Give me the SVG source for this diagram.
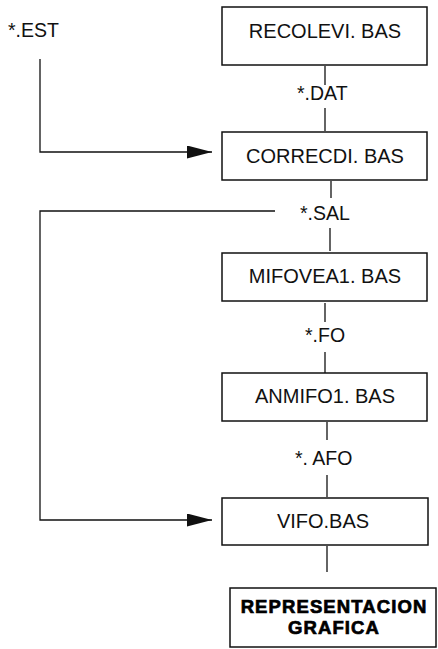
<svg xmlns="http://www.w3.org/2000/svg" width="438" height="649" viewBox="0 0 438 649">
<style>
.box{fill:#fff;stroke:#111;stroke-width:1.5}
.ln{fill:none;stroke:#111;stroke-width:1.3}
.t{font-family:"Liberation Sans",Arial,sans-serif;font-size:20px;fill:#111;text-anchor:middle}
.lb{font-family:"Liberation Sans",Arial,sans-serif;font-size:19.5px;fill:#111}
.b{font-family:"Liberation Sans",Arial,sans-serif;font-size:18.5px;font-weight:900;fill:#000;stroke:#000;stroke-width:0.7;text-anchor:middle;letter-spacing:1.1px}
</style>
<defs>
<marker id="ah" markerWidth="26" markerHeight="14" refX="25" refY="6.5" orient="auto" markerUnits="userSpaceOnUse">
<path d="M0,0 L25,6.5 L0,13 Z" fill="#111"/>
</marker>
</defs>
<g id="connectors">
<line class="ln" x1="325" y1="66" x2="325" y2="85"/>
<line class="ln" x1="325" y1="108" x2="325" y2="131"/>
<polyline class="ln" points="40,59 40,152 212,152" marker-end="url(#ah)"/>
<line class="ln" x1="331" y1="181" x2="331" y2="198"/>
<polyline class="ln" points="275,211 40,211 40,520 212,520" marker-end="url(#ah)"/>
<line class="ln" x1="330" y1="228" x2="330" y2="251"/>
<line class="ln" x1="325" y1="303" x2="325" y2="322"/>
<line class="ln" x1="325" y1="352" x2="325" y2="373"/>
<line class="ln" x1="327" y1="422" x2="327" y2="440"/>
<line class="ln" x1="327" y1="475" x2="327" y2="497"/>
<line class="ln" x1="327" y1="546" x2="327" y2="572"/>
</g>
<g id="labels">
<text class="lb" x="8" y="37">*.EST</text>
<text class="lb" x="297" y="100">*.DAT</text>
<text class="lb" x="300" y="220">*.SAL</text>
<text class="lb" x="305" y="342">*.FO</text>
<text class="lb" x="295" y="465">*. AFO</text>
</g>
<g id="recolevi"><rect class="box" x="222" y="7" width="205" height="58"/><text class="t" x="325" y="38">RECOLEVI. BAS</text></g>
<g id="correcdi"><rect class="box" x="222" y="132" width="205" height="48"/><text class="t" x="325" y="163">CORRECDI. BAS</text></g>
<g id="mifovea1"><rect class="box" x="222" y="253" width="205" height="48"/><text class="t" x="325" y="283">MIFOVEA1. BAS</text></g>
<g id="anmifo1"><rect class="box" x="222" y="373" width="205" height="48"/><text class="t" x="325" y="403">ANMIFO1. BAS</text></g>
<g id="vifo"><rect class="box" x="222" y="498" width="206" height="47"/><text class="t" x="323" y="528">VIFO.BAS</text></g>
<g id="representacion"><rect class="box" x="230" y="588" width="206" height="59"/><text class="b" x="334" y="613">REPRESENTACION</text><text class="b" x="334" y="634">GRAFICA</text></g>
</svg>
